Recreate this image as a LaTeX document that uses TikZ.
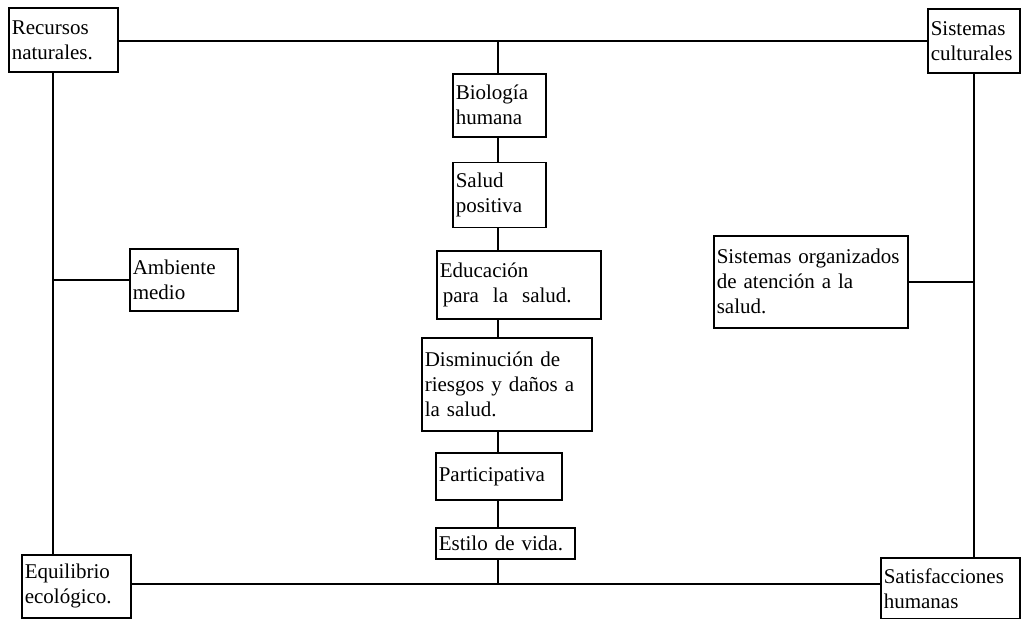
\documentclass[tikz,border=0pt]{standalone}
\usepackage{fontspec}
\setmainfont{Liberation Serif}
\usetikzlibrary{positioning}

\begin{document}
\begin{tikzpicture}[x=1pt, y=-1pt, line width=1.6pt]
	\tikzstyle{item}
	  =[draw, rectangle, anchor=north west, align=left, inner xsep=3pt,
	  inner ysep=0pt, font=\fontsize{21}{25}\selectfont]

	\useasboundingbox (0,0) rectangle (1024,618);

	% corners
	\node[item, text width=103pt, minimum height=64pt] (rec)
	  at (8,7) {Recursos\\naturales.};
	\node[item, text width=86pt, minimum height=64pt] (sis)
	  at (927,8) {Sistemas\\culturales};
	\node[item, text width=103pt, minimum height=63pt] (equ)
	  at (21,554) {Equilibrio\\ecológico.};
	\node[item, text width=133pt, minimum height=61pt] (sat)
	  at (880,557) {Satisfacciones\\humanas};

	% sides
	\node[item, text width=102pt, minimum height=62pt] (amb)
	  at (129,248) {Ambiente\\medio};
	\node[item, text width=188pt, minimum height=92pt] (org)
	  at (713,235) {Sistemas organizados\\de atención a la\\salud.};

	% middle column
	\node[item, text width=87pt, minimum height=63pt] (bio)
	  at (452,73) {Biología\\humana};
	\node[item, text width=87pt, minimum height=65pt] (sal)
	  [below=24pt of bio] {Salud\\positiva};
	\node[item, text width=158pt, minimum height=68pt] (edu)
	  at (436,250) {Educación\\\hspace*{3pt}para~ la~ salud.};
	\node[item, text width=164pt, minimum height=93pt] (dis)
	  at (421,337) {Disminución de\\riesgos y daños a\\la salud.};
	\node[item, text width=120pt, minimum height=47pt] (par)
	  at (435,452) {Participativa};
	\node[item, text width=133pt, minimum height=31pt] (est)
	  at (435,527) {Estilo de vida.};

	\coordinate (lft) at (53,0);
	\coordinate (ctr) at (498,0);
	\coordinate (rgt) at (974,0);
	\coordinate (top) at (0,41);
	\coordinate (bot) at (0,584);

	% frame
	\draw (rec.east |- top) -- (sis.west |- top);
	\draw (equ.east |- bot) -- (sat.west |- bot);
	\draw (lft |- rec.south) -- (lft |- equ.north);
	\draw (rgt |- sis.south) -- (rgt |- sat.north);
	\draw (lft |- amb.west) -- (amb.west);
	\draw (org.east) -- (rgt |- org.east);

	% chain
	\draw (ctr |- top) -- (ctr |- bio.north);
	\draw (ctr |- bio.south) -- (ctr |- sal.north);
	\draw (ctr |- sal.south) -- (ctr |- edu.north);
	\draw (ctr |- edu.south) -- (ctr |- dis.north);
	\draw (ctr |- dis.south) -- (ctr |- par.north);
	\draw (ctr |- par.south) -- (ctr |- est.north);
	\draw (ctr |- est.south) -- (ctr |- bot);
\end{tikzpicture}
\end{document}
